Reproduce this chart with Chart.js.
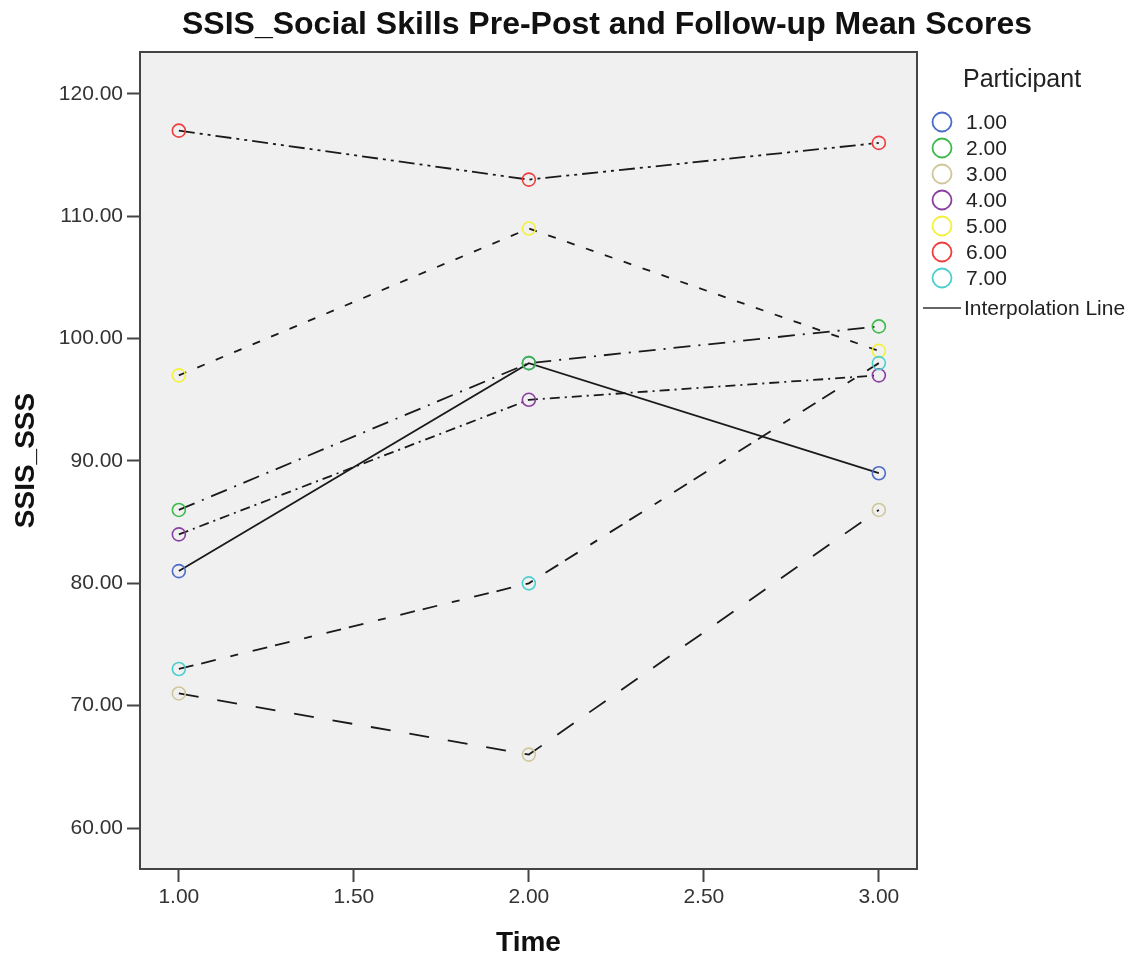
<!DOCTYPE html>
<html>
<head>
<meta charset="utf-8">
<script src="https://cdn.jsdelivr.net/npm/chart.js@4/dist/chart.umd.min.js"></script>
<style>
  html, body { margin: 0; padding: 0; background: #fff; }
  #wrap { width: 1137px; height: 960px; position: relative; }
</style>
</head>
<body>
<div id="wrap"><canvas id="js-line-chart"></canvas></div>
<script>
// Data
const timePoints = [1, 2, 3];
const participants = ['1.00', '2.00', '3.00', '4.00', '5.00', '6.00', '7.00'];
const p1Scores = [81, 98, 89];
const p2Scores = [86, 98, 101];
const p3Scores = [71, 66, 86];
const p4Scores = [84, 95, 97];
const p5Scores = [97, 109, 99];
const p6Scores = [117, 113, 116];
const p7Scores = [73, 80, 98];
const yTicks = [60, 70, 80, 90, 100, 110, 120];
const xTicks = [1, 1.5, 2, 2.5, 3];

const allScores = [p1Scores, p2Scores, p3Scores, p4Scores, p5Scores, p6Scores, p7Scores];
const markerColors = ['#4a6cc8', '#3cba4a', '#cfc79a', '#8a3fa0', '#f4f03c', '#f03c3c', '#4ccfcf'];
const dashes = [
  [],
  [17, 8, 2, 8],
  [20, 19],
  [10, 5, 2, 5],
  [8, 12],
  [16, 5, 3, 5, 3, 5],
  [15, 8, 15, 15, 8, 15],
];

const FONT = '"Liberation Sans", Arial, sans-serif';

// later participants drawn on top, like the reference
const datasets = allScores.map((scores, i) => ({
  label: participants[i],
  data: scores.map((v, j) => ({ x: timePoints[j], y: v })),
  order: allScores.length - i,
  borderColor: '#1a1a1a',
  borderWidth: 1.8,
  borderDash: dashes[i],
  pointStyle: 'circle',
  pointRadius: 6.5,
  pointBorderWidth: 1.6,
  pointBorderColor: markerColors[i],
  pointBackgroundColor: 'rgba(0,0,0,0)',
  fill: false,
  tension: 0,
}));

// grey plot background, frame, title and legend
const decor = {
  id: 'decor',
  beforeDraw(chart) {
    const { ctx, chartArea: a } = chart;
    ctx.save();
    ctx.fillStyle = '#f0f0f0';
    ctx.fillRect(a.left, a.top, a.right - a.left, a.bottom - a.top);
    ctx.restore();
  },
  afterDraw(chart) {
    const { ctx, chartArea: a } = chart;
    ctx.save();
    ctx.strokeStyle = '#444';
    ctx.lineWidth = 2;
    ctx.strokeRect(a.left, a.top, a.right - a.left, a.bottom - a.top);

    // title
    ctx.fillStyle = '#111';
    ctx.font = 'bold 32px ' + FONT;
    ctx.textAlign = 'center';
    ctx.textBaseline = 'middle';
    ctx.fillText('SSIS_Social Skills Pre-Post and Follow-up Mean Scores', 607, 25);

    // legend
    ctx.textAlign = 'left';
    ctx.font = '25px ' + FONT;
    ctx.fillStyle = '#222';
    ctx.fillText('Participant', 963, 80);
    ctx.font = '21px ' + FONT;
    participants.forEach((p, i) => {
      const y = 122 + i * 26;
      ctx.beginPath();
      ctx.arc(942, y, 9.5, 0, Math.PI * 2);
      ctx.strokeStyle = markerColors[i];
      ctx.lineWidth = 1.8;
      ctx.stroke();
      ctx.fillStyle = '#222';
      ctx.fillText(p, 966, y + 1);
    });
    ctx.beginPath();
    ctx.moveTo(923, 308);
    ctx.lineTo(961, 308);
    ctx.strokeStyle = '#333';
    ctx.lineWidth = 1.6;
    ctx.stroke();
    ctx.fillStyle = '#222';
    ctx.font = '21px ' + FONT;
    ctx.fillText('Interpolation Line', 964, 309);
    ctx.restore();
  },
};

const ctx = document.getElementById('js-line-chart').getContext('2d');

const newLineChart = new Chart(ctx, {
  type: 'line',
  data: { datasets },
  options: {
    responsive: true,
    maintainAspectRatio: false,
    animation: false,
    layout: { padding: { top: 52, right: 220, left: 0, bottom: 0 } },
    plugins: {
      legend: { display: false },
      tooltip: { enabled: false },
    },
    scales: {
      x: {
        type: 'linear',
        min: 0.889,
        max: 3.109,
        afterBuildTicks: (s) => { s.ticks = xTicks.map(v => ({ value: v })); },
        afterFit: (s) => { s.height = 91; },
        grid: { display: true, drawOnChartArea: false, drawTicks: true, tickLength: 13, tickWidth: 2, tickColor: '#444' },
        border: { display: false },
        ticks: {
          color: '#333',
          font: { family: FONT, size: 21 },
          padding: 3,
          maxRotation: 0,
          callback: (v) => Number(v).toFixed(2),
        },
        title: {
          display: true,
          text: 'Time',
          color: '#111',
          font: { family: FONT, size: 28, weight: 'bold' },
          padding: { top: 0, bottom: 0 },
        },
      },
      y: {
        min: 56.65,
        max: 123.43,
        afterBuildTicks: (s) => { s.ticks = yTicks.map(v => ({ value: v })); },
        afterFit: (s) => { s.width = 140; },
        grid: { display: true, drawOnChartArea: false, drawTicks: true, tickLength: 13, tickWidth: 2, tickColor: '#444' },
        border: { display: false },
        ticks: {
          color: '#333',
          font: { family: FONT, size: 21 },
          padding: 4,
          callback: (v) => Number(v).toFixed(2),
        },
        title: {
          display: true,
          text: 'SSIS_SSS',
          color: '#111',
          font: { family: FONT, size: 28, weight: 'bold' },
          padding: { top: 9, bottom: 0 },
        },
      },
    },
  },
  plugins: [decor],
});
</script>
</body>
</html>
